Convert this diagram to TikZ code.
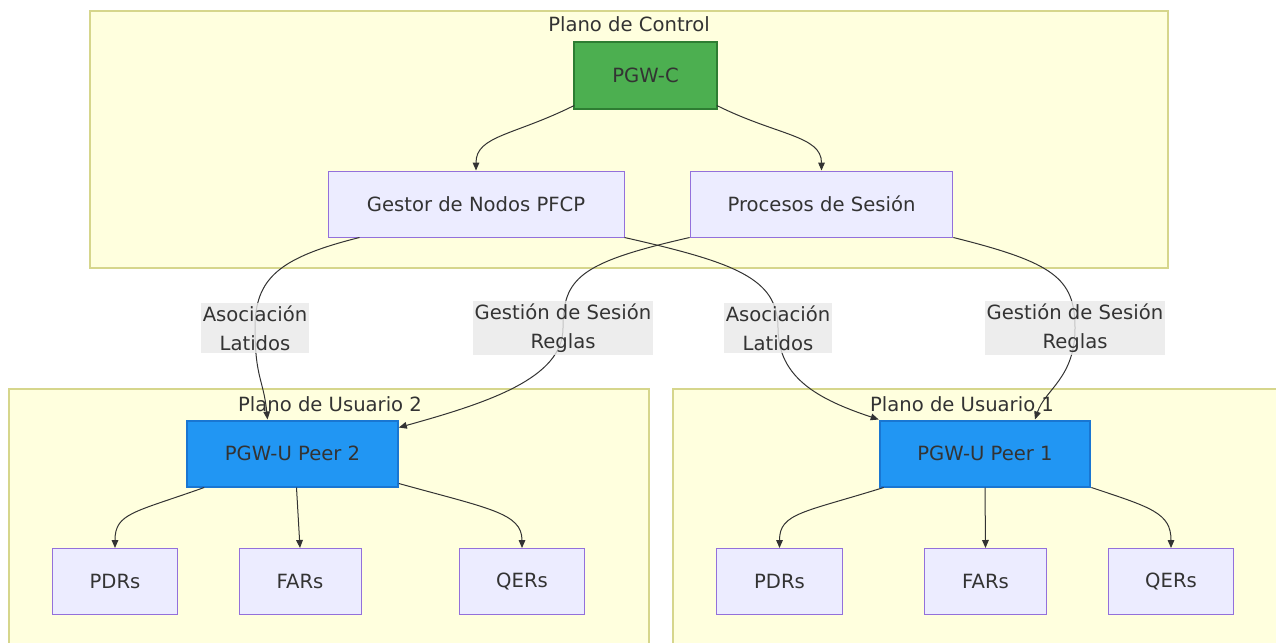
\documentclass[tikz,border=0pt]{standalone}
\usepackage{fontspec}
\setmainfont{DejaVu Sans}
\usetikzlibrary{arrows.meta,positioning,calc}

\definecolor{clfill}{HTML}{FFFFDE}
\definecolor{cldraw}{HTML}{D6D68C}
\definecolor{nfill}{HTML}{ECECFF}
\definecolor{ndraw}{HTML}{9370DB}
\definecolor{txt}{HTML}{333333}
\definecolor{gfill}{HTML}{4CAF50}
\definecolor{gdraw}{HTML}{2E7D32}
\definecolor{bfill}{HTML}{2196F3}
\definecolor{bdraw}{HTML}{1976D2}
\definecolor{lblfill}{HTML}{E8E8E8}

\begin{document}
\begin{tikzpicture}[
  x=0.75pt, y=-0.75pt,
  font=\fontsize{14.7}{21.8}\selectfont,
  text=txt,
  >={Triangle[length=6pt,width=5pt]},
  cluster/.style={draw=cldraw, fill=clfill, line width=1.2pt},
  title/.style={inner sep=0pt},
  box/.style={draw, line width=0.75pt, inner sep=0pt, minimum height=49.5pt, align=center},
  sub/.style={box, fill=nfill, draw=ndraw},
  ctrl/.style={box, fill=gfill, draw=gdraw, line width=1.5pt},
  peer/.style={box, fill=bfill, draw=bdraw, line width=1.5pt, minimum width=158pt},
  rule/.style={sub, minimum width=94pt},
  lbl/.style={fill=lblfill, fill opacity=0.8, text opacity=1, align=center, inner xsep=1pt, inner ysep=2pt},
  flow/.style={->, draw=txt, line width=0.75pt}
]
\useasboundingbox (0,0) rectangle (1276,642);
\clip (0,0) rectangle (1276,642);

% subgraphs
\draw[cluster] (90,11) rectangle (1168,268);
\draw[cluster] (9,389) rectangle (649,650);
\draw[cluster] (673,389) rectangle (1285,650);
\node[title] (tctrl) at (629,24) {Plano de Control};
\node[title] (tup2) at (330,404) {Plano de Usuario 2};
\node[title] (tup1) at (962,404) {Plano de Usuario 1};

% control plane
\node[ctrl, minimum width=107pt] (pgwc) at (645.5,75.5) {PGW-C};
\node[sub, minimum width=222pt] (gestor) at (476,204) {Gestor de Nodos PFCP};
\node[sub, minimum width=197pt] (procesos) at (821.5,204) {Procesos de Sesión};

% user plane 2
\node[peer] (peertwo) at (292.5,453.5) {PGW-U Peer 2};
\node[rule] (pdrtwo) at (115,581.5) {PDRs};
\node[rule, minimum width=91.5pt] (fartwo) at (300,581.5) {FARs};
\node[rule] (qertwo) at (522,581.5) {QERs};

% user plane 1
\node[peer] (peerone) at (985,453.5) {PGW-U Peer 1};
\node[rule] (pdrone) at (779.5,581.5) {PDRs};
\node[rule, minimum width=91.5pt] (farone) at (985.5,581.5) {FARs};
\node[rule] (qerone) at (1171,581.5) {QERs};

% label spots
\coordinate (asoctwo) at (255,328);
\coordinate (gesttwo) at (563,328);
\coordinate (asocone) at (778,328);
\coordinate (gestone) at (1075,328);

\draw[flow] ($(pgwc.south west)+(1,-4)$) .. controls +(-60,30) and +(0,-35) .. (gestor.north);
\draw[flow] ($(pgwc.south east)+(-1,-4)$) .. controls +(60,30) and +(0,-35) .. (procesos.north);

\draw[flow] ($(gestor.south west)+(32,0)$) .. controls +(-80,20) and +(0,-50) .. (asoctwo)
  .. controls +(0,50) and +(-4,-40) .. ($(peertwo.north)+(-25,0)$);
\draw[flow] (gestor.south east) .. controls +(110,25) and +(0,-50) .. (asocone)
  .. controls +(0,50) and +(-60,-20) .. (peerone.north west);
\draw[flow] (procesos.south west) .. controls +(-110,25) and +(0,-50) .. (gesttwo)
  .. controls +(0,50) and +(90,-25) .. ($(peertwo.north east)+(0,8)$);
\draw[flow] (procesos.south east) .. controls +(100,25) and +(0,-50) .. (gestone)
  .. controls +(0,50) and +(10,-30) .. ($(peerone.north)+(50,0)$);

\draw[flow] ($(peertwo.south west)+(18,0)$) .. controls +(-70,25) and +(0,-35) .. (pdrtwo.north);
\draw[flow] ($(peertwo.south)+(4,0)$) -- (fartwo.north);
\draw[flow] ($(peertwo.south east)+(0,-4)$) .. controls +(90,25) and +(0,-35) .. (qertwo.north);

\draw[flow] ($(peerone.south west)+(5,0)$) .. controls +(-80,25) and +(0,-35) .. (pdrone.north);
\draw[flow] (peerone.south) -- (farone.north);
\draw[flow] (peerone.south east) .. controls +(60,20) and +(0,-35) .. (qerone.north);

% edge labels
\node[lbl] (lasoctwo) at (asoctwo) {Asociación\\Latidos};
\node[lbl] (lgesttwo) at (gesttwo) {Gestión de Sesión\\Reglas};
\node[lbl] (lasocone) at (asocone) {Asociación\\Latidos};
\node[lbl] (lgestone) at (gestone) {Gestión de Sesión\\Reglas};
\end{tikzpicture}
\end{document}
